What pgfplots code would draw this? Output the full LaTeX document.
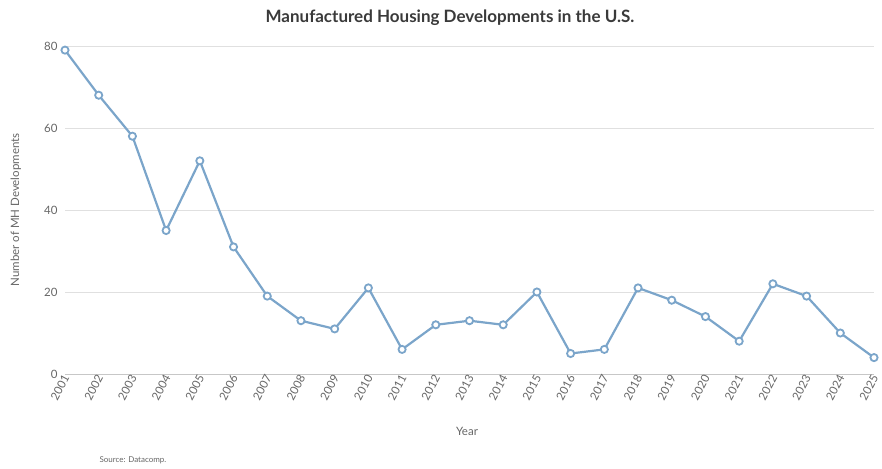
\documentclass[border=0pt]{standalone}
\usepackage{fontspec}
\setmainfont{Lato}
\usepackage{pgfplots}
\pgfplotsset{compat=1.18}
\definecolor{line}{HTML}{7BA5CA}
\definecolor{txt}{HTML}{666666}
\definecolor{ttl}{HTML}{3A3A3A}
\begin{document}
\begin{tikzpicture}[x=1pt,y=1pt]
\begin{axis}[
    at={(0,0)}, anchor=south west,
    scale only axis,
    width=809pt, height=328pt,
    xmin=2001, xmax=2025, ymin=0, ymax=80,
    xtick={2001,...,2025},
    ytick={0,20,40,60,80},
    /pgf/number format/assume math mode=true,
    xticklabel={\pgfmathprintnumber[1000 sep={},fixed]{\tick}},
    x tick label style={rotate=62, anchor=east, font=\fontsize{11.5}{13}\selectfont, text=txt, inner sep=1pt, yshift=-2pt},
    y tick label style={font=\fontsize{11.5}{13}\selectfont, text=txt, xshift=-4pt},
    major tick length=0pt,
    axis x line*=bottom,
    axis y line*=left,
    y axis line style={draw=none},
    x axis line style={draw=black!22, line width=0.8pt},
    ymajorgrids,
    grid style={draw=black!12, line width=0.7pt},
    clip=false,
]
\addplot[line, line width=2.2pt, mark=*, mark size=3.6pt,
    mark options={fill=white, draw=line, line width=1.8pt}] coordinates {
(2001,79) (2002,68) (2003,58) (2004,35) (2005,52) (2006,31) (2007,19)
(2008,13) (2009,11) (2010,21) (2011,6) (2012,12) (2013,13) (2014,12)
(2015,20) (2016,5) (2017,6) (2018,21) (2019,18) (2020,14) (2021,8)
(2022,22) (2023,19) (2024,10) (2025,4)
};
\end{axis}
\node[font=\bfseries\fontsize{17}{20}\selectfont, text=ttl] at (385pt,356pt) {Manufactured Housing Developments in the U.S.};
\node[font=\fontsize{11.5}{13}\selectfont, text=txt, rotate=90] at (-49pt,164pt) {Number of MH Developments};
\node[font=\fontsize{11.5}{13}\selectfont, text=txt] at (402pt,-57pt) {Year};
\node[font=\fontsize{8}{10}\selectfont, text=txt, anchor=west] at (31pt,-86pt) {Source: Datacomp.};
\path[use as bounding box] (-65pt,-94pt) rectangle (817pt,374pt);
\end{tikzpicture}
\end{document}
